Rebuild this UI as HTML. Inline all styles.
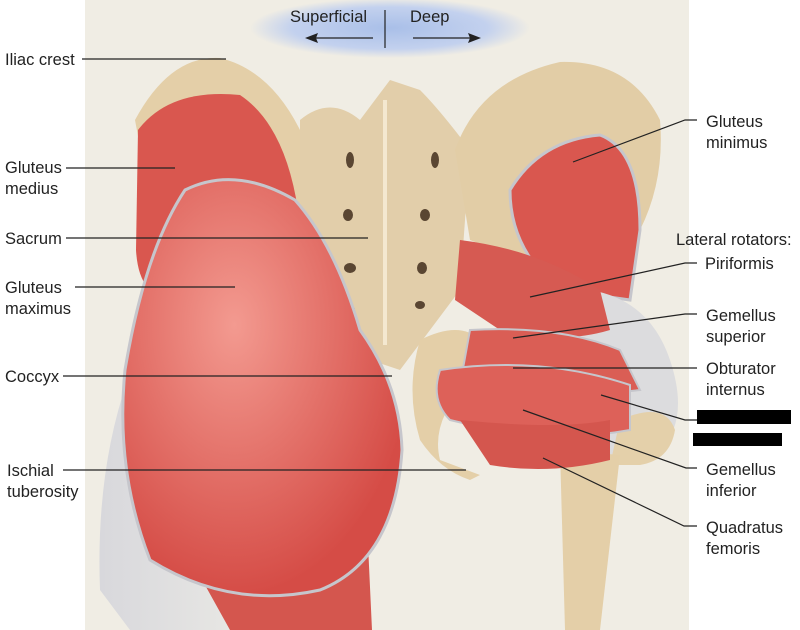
<!DOCTYPE html>
<html><head><meta charset="utf-8"><style>
html,body{margin:0;padding:0;background:#fff;}
svg{display:block}
text{font-family:"Liberation Sans",sans-serif;font-size:16.5px;fill:#222}
</style></head><body>
<svg width="800" height="630" viewBox="0 0 800 630" xmlns="http://www.w3.org/2000/svg">
<defs>
<radialGradient id="bl" cx="50%" cy="50%" r="50%"><stop offset="0" stop-color="#a9bfe8"/><stop offset="0.7" stop-color="#c3d1ee"/><stop offset="1" stop-color="#f0ede4"/></radialGradient>
<radialGradient id="mus" cx="40%" cy="35%" r="65%"><stop offset="0" stop-color="#f39a90"/><stop offset="1" stop-color="#d54c46"/></radialGradient>
<linearGradient id="wht" x1="0" x2="1"><stop offset="0" stop-color="#d8d8dc"/><stop offset="1" stop-color="#ecebe6"/></linearGradient>
</defs>
<rect x="85" y="0" width="604" height="630" fill="#f0ede4"/>
<ellipse cx="390" cy="28" rx="140" ry="30" fill="url(#bl)"/>
<!-- left white fascia -->
<path d="M135 360 Q95 460 100 590 L130 630 L275 630 L220 560 Q140 480 145 380Z" fill="url(#wht)"/>
<!-- lower thigh muscles -->
<path d="M205 585 L230 630 L372 630 L365 480 L300 570Z" fill="#d4564e"/>
<!-- left ilium bone -->
<path d="M135 120 Q170 55 220 58 Q270 70 300 130 Q330 200 370 270 L300 330 L150 200Z" fill="#e4cfa8"/>
<!-- gluteus medius -->
<path d="M138 130 Q170 88 240 95 Q285 125 298 210 L210 290 Q140 320 136 250Z" fill="#d9574f"/>
<!-- sacrum -->
<path d="M300 120 Q330 95 360 120 L390 80 L420 90 Q440 110 470 150 L460 290 Q430 330 400 370 L370 360 L330 300 L300 200Z" fill="#e2ceaa"/>
<line x1="385" y1="100" x2="385" y2="345" stroke="#f4e8d0" stroke-width="4"/>
<g fill="#5a4632"><ellipse cx="348" cy="215" rx="5" ry="6"/><ellipse cx="350" cy="268" rx="6" ry="5"/><ellipse cx="425" cy="215" rx="5" ry="6"/><ellipse cx="422" cy="268" rx="5" ry="6"/><ellipse cx="350" cy="310" rx="5" ry="4"/><ellipse cx="420" cy="305" rx="5" ry="4"/><ellipse cx="350" cy="160" rx="4" ry="8"/><ellipse cx="435" cy="160" rx="4" ry="8"/></g>
<!-- gluteus maximus -->
<path d="M185 190 Q235 165 295 200 Q335 245 360 330 Q400 385 402 450 Q395 560 320 590 Q230 610 150 560 Q115 470 125 370 Q145 250 185 190Z" fill="url(#mus)" stroke="#c6c6cc" stroke-width="3"/>
<!-- right ilium -->
<path d="M455 150 Q480 80 560 62 Q630 60 660 120 Q665 180 640 230 L600 290 L520 260 L470 240Z" fill="#e2cda6"/>
<!-- gluteus minimus -->
<path d="M510 190 Q540 140 600 135 Q640 150 640 230 L630 300 L560 290 Q510 250 510 190Z" fill="#d9574f" stroke="#c6c6cc" stroke-width="3"/>
<!-- trochanter / tendon -->
<path d="M590 290 Q650 300 670 360 Q690 420 660 450 L600 470 L560 380Z" fill="#dcdcde"/>
<path d="M620 420 Q665 400 675 430 Q670 460 640 465 L610 465Z" fill="#e4d0aa"/>
<!-- femur shaft -->
<path d="M560 450 L620 455 L600 630 L565 630Z" fill="#e4cfa8"/>
<!-- ischium -->
<path d="M420 340 Q460 320 480 340 L470 380 Q430 420 440 460 L480 475 L470 480 Q440 470 420 440 Q405 390 420 340Z" fill="#e4cfa8"/>
<!-- piriformis -->
<path d="M460 240 Q540 250 600 290 L610 330 Q560 345 500 330 L455 300Z" fill="#d65a52"/>
<path d="M470 330 Q560 325 620 350 L640 390 Q560 400 460 385Z" fill="#da5e55" stroke="#c6c6cc" stroke-width="2"/>
<path d="M440 370 Q540 355 630 385 L630 430 Q550 445 450 420 Q430 400 440 370Z" fill="#dd6159" stroke="#c6c6cc" stroke-width="2"/>
<path d="M460 420 Q560 430 610 420 L610 460 Q550 475 490 465Z" fill="#d4564e"/>
<!-- leader lines -->
<g stroke="#222" stroke-width="1.2" fill="none">
<line x1="82" y1="59" x2="226" y2="59"/>
<line x1="66" y1="168" x2="175" y2="168"/>
<line x1="66" y1="238" x2="368" y2="238"/>
<line x1="75" y1="287" x2="235" y2="287"/>
<line x1="63" y1="376" x2="392" y2="376"/>
<line x1="63" y1="470" x2="466" y2="470"/>
<polyline points="697,120 685,120 573,162"/>
<polyline points="697,263 685,263 530,297"/>
<polyline points="697,314 685,314 513,338"/>
<line x1="513" y1="368" x2="697" y2="368"/>
<polyline points="601,395 685,420 697,420"/>
<polyline points="523,410 686,468 697,468"/>
<polyline points="543,458 684,526 697,526"/>
<line x1="385" y1="10" x2="385" y2="48"/>
<line x1="310" y1="38" x2="373" y2="38"/>
<line x1="413" y1="38" x2="475" y2="38"/>
</g>
<path d="M305 38 L318 33 L316 38 L318 43Z" fill="#222"/>
<path d="M481 38 L468 33 L470 38 L468 43Z" fill="#222"/>
<text x="290" y="22">Superficial</text>
<text x="410" y="22">Deep</text>
<text x="5" y="65">Iliac crest</text>
<text x="5" y="173">Gluteus</text><text x="5" y="194">medius</text>
<text x="5" y="244">Sacrum</text>
<text x="5" y="293">Gluteus</text><text x="5" y="314">maximus</text>
<text x="5" y="382">Coccyx</text>
<text x="7" y="476">Ischial</text><text x="7" y="497">tuberosity</text>
<text x="706" y="127">Gluteus</text><text x="706" y="148">minimus</text>
<text x="676" y="245">Lateral rotators:</text>
<text x="705" y="269">Piriformis</text>
<text x="706" y="321">Gemellus</text><text x="706" y="342">superior</text>
<text x="706" y="374">Obturator</text><text x="706" y="395">internus</text>
<text x="706" y="475">Gemellus</text><text x="706" y="496">inferior</text>
<text x="706" y="533">Quadratus</text><text x="706" y="554">femoris</text>
<rect x="697" y="410" width="94" height="14" fill="#000"/>
<rect x="693" y="433" width="89" height="13" fill="#000"/>
</svg>
</body></html>
